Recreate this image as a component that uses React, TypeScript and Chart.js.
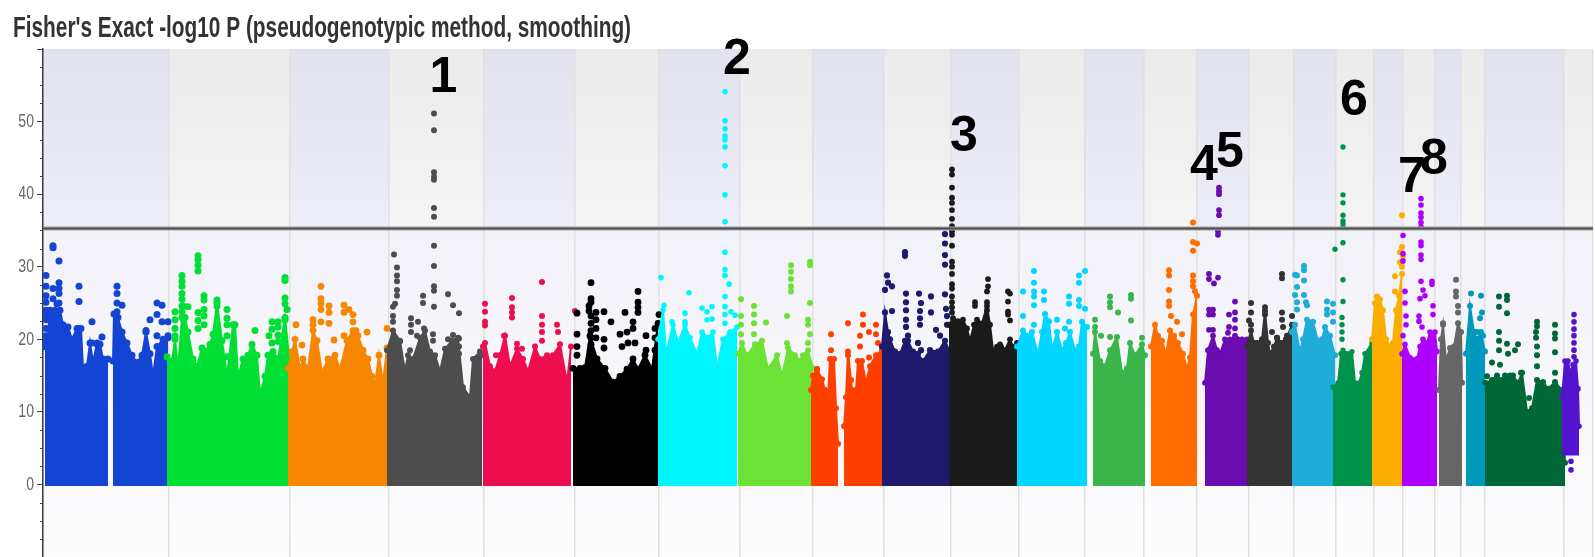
import React, { useEffect, useRef } from "react";
import { Chart, registerables } from "chart.js";

Chart.register(...registerables);

type P = [number, number];

const titleText = "Fisher's Exact -log10 P (pseudogenotypic method, smoothing)";
const thresholdValue = 35.25;
const axisStart = 43;
const axisEnd = 1593;
const bandEdges = [43, 169, 290, 389, 484, 575, 659, 740, 813, 884, 951, 1019, 1085, 1144, 1197, 1249, 1294, 1336, 1374, 1403, 1435, 1461, 1485, 1564, 1593];
const yLabels = [0, 10, 20, 30, 40, 50];
const peakLabels = ["1", "2", "3", "4", "5", "6", "7", "8"];
const peakLabelX = [443.5, 737, 964, 1204, 1230, 1354, 1412, 1434];
const peakLabelY = [56, 58.4, 47.8, 43.9, 45.7, 52.8, 42.2, 44.7];

const chr01aTop: P[] = [[45,19],[47,19],[50,24],[55,24],[60,24],[63,22],[68,21.7],[72,20],[77,21.5],[81,21.5],[83,16],[87,16.3],[90,19.5],[93,16.8],[97,19.5],[100,19.3],[103,17.3],[108,17.3]];
const chr01bTop: P[] = [[113,17],[114,23.5],[118,23],[122,21],[127,19.5],[132,17.8],[137,16.8],[142,17.8],[146,21],[150,18],[153,15],[157,19],[163,20],[168,20.5]];
const chr01Peaks: P[] = [[53,32.9],[53,32.6],[59,30.8],[46,28.8],[46,27.3],[46,26],[46,24],[46,23.4],[46,20.5],[46,19.8],[53,27],[59,27.8],[59,27],[59,26.3],[79,27.3],[79,25.2],[79,21.5],[46,25.1],[92,22.4],[46,22.7],[46,21.5],[102,20.3],[59,25],[53,25.6],[57,24.9],[117,27.3],[117,26.3],[117,25],[117,23.8],[122,24.7],[157,25],[162,24.7],[157,23.4],[150,22.7],[162,22.4],[168,22.4],[157,20.5],[146,21.2],[168,20.2],[92,19.5],[97,19.3]];

const chr02Top: P[] = [[167,17.6],[172,17],[175,20],[178,16],[182,23],[185,23],[188,21],[193,17.3],[197,16.3],[202,18.8],[205,18.3],[210,19.3],[213,20.7],[217,25],[222,19.8],[227,15],[233,22],[235,22],[238,14.9],[243,17.3],[248,17.8],[252,19.3],[257,17.8],[260,12.4],[265,14.9],[268,17.8],[273,18.3],[278,17.3],[285,23],[290,16.3]];
const chr02Peaks: P[] = [[198,31.5],[198,31],[198,30.2],[198,29.4],[182,28.8],[182,28],[182,27.3],[182,26.3],[182,25.5],[182,24.6],[182,23.8],[204,26],[204,25.4],[217,25.4],[217,24.6],[227,24.1],[227,22.9],[227,22],[227,20.5],[227,17.6],[188,24.5],[183,24.6],[175,23.8],[175,22.7],[175,21.5],[175,20.5],[198,23.7],[198,22.6],[198,21.5],[204,24.1],[204,23.2],[204,22],[255,21.2],[278,22.4],[278,21.7],[272,22.4],[272,21.4],[269,20.5],[285,28.5],[285,28.1],[285,25.7],[285,24.9],[287,24.1],[285,22.7],[272,19.5],[278,19.7],[278,20.6]];

const chr03Top: P[] = [[288,16],[292,18.3],[295,20],[300,15.9],[303,17.3],[308,15.9],[313,21.2],[317,19.8],[322,15.4],[328,17.3],[335,17.8],[340,15.9],[347,19.8],[353,21.2],[358,20.5],[363,18.5],[368,17.3],[372,14.9],[375,13.7],[379,17.8],[383,14],[387,18.8]];
const chr03Peaks: P[] = [[321,27.3],[321,25.6],[321,24.9],[321,24.1],[329,24.6],[329,23.7],[329,22.2],[321,22.4],[313,22.7],[313,22],[344,24.7],[344,23.7],[349,24.1],[353,23.4],[353,22.4],[296,22],[367,21],[334,19.9],[302,19.2],[356,21.2],[344,20.5],[387,21.5]];

const chr04Top: P[] = [[387,18.5],[393,21.2],[400,19.8],[405,15.6],[408,17.8],[413,17.3],[420,20.2],[425,21.2],[430,18.3],[435,17.8],[440,15.6],[445,18.7],[452,19.8],[458,20.2],[463,13.4],[470,12],[473,17.3],[480,18.3],[482,17.8]];
const chr04Peaks: P[] = [[394,31.7],[397,29.9],[397,28.8],[397,28],[397,26.8],[397,26],[395,24.9],[393,24.5],[393,23.2],[393,22.4],[434,51.1],[434,48.8],[434,43],[434,42.4],[434,42],[434,38.1],[434,36.9],[434,32.9],[434,30.1],[434,27.3],[434,26.7],[434,24.5],[448,26.2],[453,24.7],[459,23.6],[423,26],[423,25],[411,22.9],[411,22],[411,21],[418,22.4],[424,21.5],[433,20.7],[433,19.8],[453,20.6],[459,20.1],[448,20],[410,18.5],[417,20.5],[400,19.7],[459,19],[459,18]];

const chr05Top: P[] = [[483,19],[485,19.5],[490,16.3],[495,15.6],[500,17.8],[505,20.5],[510,16.3],[517,18.7],[523,17.3],[528,15.6],[535,19],[540,17.3],[547,17.8],[553,17.8],[560,19.3],[567,14.1],[571,19]];
const chr05Peaks: P[] = [[485,24.9],[485,23.8],[485,22.4],[485,21.9],[512,25.7],[512,24.4],[512,23.7],[512,23],[542,27.9],[542,23.2],[542,22],[542,21],[542,19.8],[557,22],[558,21],[504,20.5],[496,17.8],[517,19.4],[522,18.7],[575,23.9]];

const chr06Top: P[] = [[573,16],[580,16],[585,16.1],[590,20.5],[597,17.3],[605,16],[613,14.1],[620,14.9],[627,15.9],[633,17.3],[638,15.9],[645,17.8],[652,15.9],[658,22.2]];
const chr06Peaks: P[] = [[591,27.8],[591,25.6],[591,25.1],[589,24.6],[589,23.9],[591,23.2],[591,22.2],[591,21.2],[591,20.2],[591,19.3],[577,23.6],[577,20.7],[577,19],[577,17.8],[596,23.7],[596,22.7],[596,21.5],[596,20.2],[604,23.8],[611,22.4],[625,23.7],[638,26.6],[638,25.1],[638,24.4],[638,23.7],[633,22.4],[633,21.5],[627,21],[620,20.7],[646,20.5],[659,23.4],[655,21.5],[655,20.2],[604,20],[604,18.8],[635,19.5],[628,19.5],[622,19],[646,18.5],[655,18.5]];

const chr07Top: P[] = [[658,20],[663,24],[666,18],[673,22],[678,19.5],[685,22],[690,20.2],[697,18],[702,21],[708,20.2],[713,21],[717,16],[723,20],[730,21],[737,21.7]];
const chr07Peaks: P[] = [[661,28.5],[689,26.4],[725,54.1],[725,50.1],[725,49],[725,48],[725,47.5],[725,46.5],[725,43.9],[725,39.9],[725,36.2],[725,32],[725,29.6],[725,28.8],[729,27.6],[725,25.9],[725,24.5],[731,23.8],[735,23.3],[725,23.4],[725,22.2],[702,24.3],[707,23.8],[712,24.5],[707,22.7],[712,22.8],[685,23.6],[685,22.4],[664,24.7],[672,22.4]];

const chr08Top: P[] = [[738,18],[742,19.5],[747,17.8],[755,19.3],[762,19.8],[768,15.9],[777,17.8],[782,14.9],[788,18.8],[795,17.8],[800,17],[803,17.8],[808,18.5],[813,16]];
const chr08Peaks: P[] = [[791,30.2],[791,29.3],[791,28.3],[791,27.3],[791,26.6],[741,25.5],[741,23.2],[741,22],[741,20.7],[754,24.6],[754,23.4],[754,22.2],[754,20.7],[766,22.3],[787,23.2],[787,19.5],[810,30.7],[810,30.2],[810,25],[808,22.7],[808,22],[810,20.7],[808,19.5]];

const chr09aTop: P[] = [[811,13],[813,15],[817,15.9],[822,14.5],[825,13],[828,12],[830,17.3],[834,17.3],[836,10.5],[838,5.6]];
const chr09bTop: P[] = [[844,8],[846,12],[848,18.3],[852,13],[856,13],[858,17],[862,17],[866,14],[870,16.3],[876,17.8],[882,18.5]];
const chr09Peaks: P[] = [[831,20.7],[831,18.5],[831,17.2],[817,15.8],[815,14.2],[848,22.2],[848,17.8],[863,23.4],[863,22],[869,21],[876,22],[876,20.7],[860,20.5],[860,19],[878,19.5],[869,17.5],[851,14.4]];

const chr10Top: P[] = [[882,19],[885,23.7],[888,21],[890,20],[895,18.3],[900,18],[905,19.8],[908,19.8],[913,18.3],[918,18],[923,17],[930,18.5],[938,18.3],[945,19.8],[949,18.5]];
const chr10Peaks: P[] = [[905,32],[905,31.5],[945,34.5],[945,33.2],[945,31.6],[945,30.3],[887,28.8],[888,27.8],[892,27.3],[885,26.8],[906,26.3],[906,25.1],[906,24],[906,22.7],[906,21.7],[919,26.3],[921,25],[920,23.9],[920,22.9],[920,22],[931,25.9],[931,23.7],[945,26.2],[946,24.2],[947,23.2],[947,22],[936,21.3],[940,20.5],[892,23.9],[908,20.5],[918,19.5],[921,18.5]];

const chr11Top: P[] = [[949,22],[953,22.9],[958,22.5],[963,22.7],[967,21.5],[970,19.8],[974,22],[977,22.7],[982,22.2],[987,24.6],[990,22],[993,18.5],[997,19],[1000,19.3],[1005,18.5],[1010,20],[1013,19],[1017,19.5]];
const chr11Peaks: P[] = [[952,43.4],[952,42.7],[952,40.9],[952,39.5],[952,38.8],[952,37.8],[952,36.6],[952,35.6],[952,34.9],[952,34.4],[952,32.9],[952,30.7],[952,30],[952,29],[952,27.6],[952,27],[952,25.9],[952,25.1],[952,24.4],[952,23.7],[988,28.3],[988,27.3],[987,26.6],[987,25.1],[987,24],[975,25.1],[975,24.6],[1008,26.6],[1010,26.3],[1008,25.2],[1008,23.8],[1008,23.4],[1010,22.6],[1001,19]];

const chr12Top: P[] = [[1017,19],[1023,21.2],[1028,20.5],[1032,21],[1038,18],[1042,21],[1045,23.5],[1049,22.5],[1052,18.5],[1057,21],[1062,18.5],[1066,19.5],[1070,21],[1075,18.5],[1079,19],[1082,22.4],[1087,21.7]];
const chr12Peaks: P[] = [[1034,29.4],[1034,27.8],[1034,26.6],[1034,25.9],[1034,24.7],[1023,26.6],[1023,23.2],[1044,26.6],[1044,25.4],[1085,29.4],[1079,28.8],[1079,27.8],[1069,25.9],[1069,24.9],[1079,25.4],[1079,24.6],[1085,24.2],[1057,22.7],[1069,22.4],[1065,21.5],[1034,22]];

const chr13Top: P[] = [[1093,18],[1095,21],[1100,17],[1105,16.3],[1110,18.5],[1117,20.3],[1122,15.4],[1127,16],[1130,19.5],[1135,17.8],[1142,19.3],[1145,17.8]];
const chr13Peaks: P[] = [[1110,25.9],[1110,25.1],[1110,24.4],[1118,23.7],[1131,26.1],[1131,25.6],[1131,22.6],[1095,22.7],[1095,21.7],[1101,20.5],[1110,20.3],[1142,20.2]];

const chr14Top: P[] = [[1151,19],[1155,22],[1158,20.5],[1162,19.8],[1166,18],[1170,21.2],[1174,20.5],[1178,19.5],[1183,18],[1187,16],[1190,17.5],[1193,23.4],[1197,26]];
const chr14Peaks: P[] = [[1169,29.5],[1169,28.8],[1169,26.8],[1169,25.2],[1169,24.6],[1171,23.2],[1177,22.4],[1182,20.7],[1193,36.1],[1193,33.4],[1197,33.2],[1193,32.2],[1193,28.8],[1193,28],[1193,27.3],[1195,26.6]];

const chr15Top: P[] = [[1205,14],[1208,18.5],[1213,20.5],[1217,18.5],[1220,18],[1225,20],[1230,20],[1235,20.5],[1242,20],[1247,20]];
const chr15Peaks: P[] = [[1219,40.9],[1219,40.4],[1219,40],[1219,37.8],[1219,37.1],[1218,34.9],[1218,34.4],[1209,29],[1209,28.3],[1214,27.7],[1218,28.5],[1209,24.1],[1213,24.1],[1209,23.4],[1213,23.4],[1209,21.3],[1213,21.3],[1229,23.4],[1229,21.7],[1235,25.2],[1235,23.7],[1235,22.7],[1235,21.5],[1228,20.9]];

const chr16Top: P[] = [[1247,19],[1251,21.2],[1254,19.5],[1257,19.5],[1262,20],[1265,23.9],[1268,19.5],[1270,18],[1274,19],[1277,20.2],[1282,19.5],[1286,20],[1292,22]];
const chr16Peaks: P[] = [[1282,29],[1282,28.4],[1251,25],[1251,23.7],[1249,22.6],[1251,22],[1265,24.4],[1265,23.4],[1282,23.7],[1282,22.7],[1292,23.2],[1283,21.7],[1272,21],[1277,20.2],[1287,20.5]];

const chr17Top: P[] = [[1292,21],[1295,22],[1300,18.3],[1303,20],[1307,22.7],[1313,22.4],[1318,19.8],[1322,20],[1325,21.7],[1330,20.5],[1335,17.8]];
const chr17Peaks: P[] = [[1304,30.1],[1304,29.5],[1295,28.9],[1297,28.8],[1304,28.1],[1297,27.2],[1295,26.1],[1304,26.1],[1306,25.1],[1297,25.1],[1307,24.7],[1297,24.1],[1327,25.2],[1333,24.9],[1327,24.1],[1327,23.4],[1333,23.7],[1333,22.4]];

const chr18Top: P[] = [[1333,13.4],[1338,14],[1341,18],[1343,18.5],[1348,18],[1352,18.3],[1355,14],[1359,14],[1362,15.4],[1365,18],[1372,19.5]];
const chr18Peaks: P[] = [[1343,46.5],[1343,39.9],[1343,38.8],[1343,37.1],[1343,36.3],[1343,35.9],[1343,35.4],[1343,33.3],[1335,32.4],[1343,28.2],[1343,25.2],[1342,23],[1342,22],[1342,21],[1342,20]];

const chr19Top: P[] = [[1372,20],[1375,25],[1377,25.9],[1380,25.5],[1383,24],[1386,20],[1390,19],[1393,19.5],[1396,24],[1399,26],[1402,29]];
const chr19Peaks: P[] = [[1402,37.1],[1402,32.7],[1400,32],[1403,31.5],[1400,30.6],[1395,28.7],[1395,26.6],[1402,30]];

const chr20Top: P[] = [[1402,18],[1405,19.3],[1410,17.5],[1417,17.3],[1420,19],[1423,20],[1427,19.5],[1430,21],[1435,21],[1437,18.3]];
const chr20Peaks: P[] = [[1403,34.3],[1403,31.8],[1403,30.8],[1405,26.6],[1405,25],[1406,23.2],[1406,22],[1403,20.5],[1421,39.4],[1421,38.5],[1421,37.4],[1421,36.8],[1421,36.1],[1421,35.5],[1421,33.4],[1421,32.9],[1421,31.6],[1421,31],[1421,28],[1432,28],[1432,27.6],[1423,26.8],[1425,26],[1420,25.6],[1419,23.2],[1419,22.5],[1433,24.6],[1433,23.4],[1422,21.7]];

const chr21Top: P[] = [[1439,13],[1441,20],[1443,22],[1446,17],[1450,18.8],[1454,19],[1458,22.2],[1461,21],[1462,14]];
const chr21Peaks: P[] = [[1456,28.2],[1456,26.6],[1456,25.9],[1458,24.6],[1458,23.7],[1443,22.2]];

const chr22Top: P[] = [[1466,18],[1470,24.6],[1474,21],[1477,20],[1481,21],[1485,18.3]];
const chr22Peaks: P[] = [[1471,26.3],[1481,26],[1482,23.7],[1480,22.9],[1477,21],[1483,20.5]];

const chr23Top: P[] = [[1485,14],[1492,14.4],[1497,15],[1500,14.4],[1505,15],[1510,15],[1513,15],[1518,14],[1522,15.4],[1527,10],[1532,10.5],[1537,14.4],[1543,14.1],[1548,13.2],[1555,14.1],[1562,13],[1565,3]];
const chr23Peaks: P[] = [[1499,25.9],[1499,24.5],[1507,26],[1507,25.4],[1507,23.6],[1499,21],[1499,19.8],[1499,18.5],[1507,19.4],[1518,19.3],[1515,18.5],[1508,18],[1500,16.5],[1492,16.8],[1487,14.9],[1521,15.4],[1537,22.4],[1537,21.8],[1536,21],[1536,20.2],[1537,19],[1537,17.8],[1537,16.3],[1555,22],[1555,20.8],[1555,20.1],[1555,18.2],[1555,15.4],[1529,11.9]];

const chr24Top: P[] = [[1562,12],[1565,17],[1568,17],[1570,15.4],[1573,16.5],[1576,17],[1578,13.2],[1579,8]];
const chr24Peaks: P[] = [[1574,23.4],[1574,22.4],[1574,21.4],[1574,20.5],[1574,19.5],[1574,18.5],[1574,17.6],[1571,3.2],[1571,2]];

const chrColors = ["#1444d4", "#00df34", "#f78600", "#4d4d4d", "#ee0e50", "#000000", "#00f6ff", "#6de236", "#ff3f00", "#1f1a6e", "#1b1b1b", "#00d6ff", "#39b54a", "#ff6d00", "#6a0cb0", "#333333", "#1dadd8", "#00924a", "#fbae00", "#ad00ff", "#666666", "#0099bd", "#006838", "#5313cf"];
const chrFloors = [-0.2, -0.2, -0.2, -0.2, -0.2, -0.2, -0.2, -0.2, -0.2, -0.2, -0.2, -0.2, -0.2, -0.2, -0.2, -0.2, -0.2, -0.2, -0.2, -0.2, -0.2, -0.2, -0.2, 4];
const chrDotRadius = [3.5, 3.5, 3.4, 3, 3, 3.4, 2.8, 3, 3, 3.1, 2.9, 3, 3, 3, 2.9, 3, 3, 2.7, 3, 2.8, 3, 3, 3, 2.8];
const chrTops: P[][][] = [[chr01aTop, chr01bTop], [chr02Top], [chr03Top], [chr04Top], [chr05Top], [chr06Top], [chr07Top], [chr08Top], [chr09aTop, chr09bTop], [chr10Top], [chr11Top], [chr12Top], [chr13Top], [chr14Top], [chr15Top], [chr16Top], [chr17Top], [chr18Top], [chr19Top], [chr20Top], [chr21Top], [chr22Top], [chr23Top], [chr24Top]];
const chrPeaks: P[][] = [chr01Peaks, chr02Peaks, chr03Peaks, chr04Peaks, chr05Peaks, chr06Peaks, chr07Peaks, chr08Peaks, chr09Peaks, chr10Peaks, chr11Peaks, chr12Peaks, chr13Peaks, chr14Peaks, chr15Peaks, chr16Peaks, chr17Peaks, chr18Peaks, chr19Peaks, chr20Peaks, chr21Peaks, chr22Peaks, chr23Peaks, chr24Peaks];

const toXY = (pts: P[]) => pts.map(([x, y]) => ({ x, y }));

function buildDatasets() {
  const out: any[] = [];
  chrColors.forEach((color, i) => {
    chrTops[i].forEach((seg) => {
      out.push({
        data: toXY(seg),
        showLine: true,
        tension: 0,
        borderColor: color,
        backgroundColor: color,
        borderWidth: 2,
        pointRadius: chrDotRadius[i],
        pointBorderWidth: 0,
        fill: { value: chrFloors[i] },
        order: 100 - i,
      });
    });
    out.push({
      data: toXY(chrPeaks[i]),
      showLine: false,
      backgroundColor: color,
      borderColor: color,
      pointRadius: chrDotRadius[i],
      pointBorderWidth: 0,
      order: 100 - i,
    });
  });
  const ends = [{ x: axisStart, y: thresholdValue }, { x: axisEnd, y: thresholdValue }];
  out.push({ data: ends, showLine: true, borderColor: "#4f4f4f", borderWidth: 2, pointRadius: 0, order: 0 });
  out.push({ data: ends, showLine: true, borderColor: "#a6a6a6", borderWidth: 4, pointRadius: 0, order: 1 });
  return out;
}

function narrow(ctx: any, anchorX: number, ratio: number, draw: () => void) {
  ctx.save();
  ctx.translate(anchorX, 0);
  ctx.scale(ratio, 1);
  ctx.translate(-anchorX, 0);
  draw();
  ctx.restore();
}

const backdrop = {
  id: "backdrop",
  beforeDraw(chart: any) {
    const { ctx, chartArea: a, scales } = chart;
    const block = chart.titleBlock;
    if (block && !block.__narrow) {
      const base = block.draw.bind(block);
      block.draw = (...args: any[]) => narrow(block.ctx, 13, 0.694, () => base(...args));
      block.__narrow = true;
    }
    const thr = scales.y.getPixelForValue(thresholdValue);
    ctx.save();
    const upperLav = ctx.createLinearGradient(0, a.top, 0, thr);
    upperLav.addColorStop(0, "#e2e2ef");
    upperLav.addColorStop(1, "#eeeef8");
    const upperGrey = ctx.createLinearGradient(0, a.top, 0, thr);
    upperGrey.addColorStop(0, "#ebebeb");
    upperGrey.addColorStop(1, "#f4f4f4");
    bandEdges.slice(0, -1).forEach((edge, i) => {
      const l = scales.x.getPixelForValue(edge);
      const r = scales.x.getPixelForValue(bandEdges[i + 1]);
      ctx.fillStyle = i % 2 === 0 ? upperLav : upperGrey;
      ctx.fillRect(l, a.top, r - l, thr - a.top);
    });
    const lower = ctx.createLinearGradient(0, thr, 0, a.bottom);
    lower.addColorStop(0, "#f1f1f8");
    lower.addColorStop(1, "#fdfdfe");
    ctx.fillStyle = lower;
    ctx.fillRect(a.left, thr, a.right - a.left, a.bottom - thr);
    ctx.restore();
  },
};

const overlay = {
  id: "overlay",
  afterDraw(chart: any) {
    const { ctx, chartArea: a, scales } = chart;
    ctx.save();
    ctx.strokeStyle = "#444";
    ctx.lineWidth = 1;
    for (let v = -10; v <= 60; v += 2.5) {
      if (v % 10 === 0) continue;
      const y = Math.round(scales.y.getPixelForValue(v)) + 0.5;
      ctx.beginPath();
      ctx.moveTo(a.left - 3, y);
      ctx.lineTo(a.left, y);
      ctx.stroke();
    }
    ctx.fillStyle = "#000";
    ctx.font = "bold 50px 'Liberation Sans'";
    ctx.textAlign = "center";
    ctx.textBaseline = "middle";
    peakLabels.forEach((t, i) => {
      ctx.fillText(t, scales.x.getPixelForValue(peakLabelX[i]), scales.y.getPixelForValue(peakLabelY[i]));
    });
    ctx.restore();
  },
};

export default function App() {
  const ref = useRef<HTMLCanvasElement>(null);
  useEffect(() => {
    const chart = new Chart(ref.current as HTMLCanvasElement, {
      type: "scatter",
      data: { datasets: buildDatasets() },
      plugins: [backdrop, overlay],
      options: {
        animation: false,
        responsive: false,
        devicePixelRatio: 1,
        events: [],
        layout: { padding: { left: 13, right: 2, top: 0, bottom: 0 }, autoPadding: false },
        plugins: {
          legend: { display: false },
          tooltip: { enabled: false },
          title: {
            display: true,
            text: titleText,
            align: "start",
            color: "#333333",
            font: { family: "'Liberation Sans'", weight: "bold", size: 30 },
            padding: { top: 11, bottom: 2 },
          },
        },
        scales: {
          x: {
            type: "linear",
            min: axisStart,
            max: axisEnd,
            afterBuildTicks: (s: any) => {
              s.ticks = bandEdges.map((value) => ({ value }));
            },
            afterFit: (s: any) => {
              s.height = 0;
              s.paddingLeft = 0;
              s.paddingRight = 0;
            },
            ticks: { display: false, autoSkip: false },
            border: { display: false },
            grid: { color: "#e0e0e0", lineWidth: 1.5, drawTicks: false },
          },
          y: {
            min: -10,
            max: 60,
            afterFit: (s: any) => {
              s.width = 30;
              s.paddingTop = 0;
              s.paddingBottom = 0;
              if (!s.__narrow) {
                const base = s.drawLabels.bind(s);
                s.drawLabels = (area: any) => narrow(s.ctx, s.right - 9, 0.74, () => base(area));
                s.__narrow = true;
              }
            },
            ticks: {
              stepSize: 2.5,
              autoSkip: false,
              maxRotation: 0,
              color: "#666666",
              padding: 3,
              font: { family: "'Liberation Sans'", size: 19 },
              callback: (v: any) => (yLabels.includes(Number(v)) ? String(v) : ""),
            },
            border: { display: true, color: "#3a3a3a", width: 1.5 },
            grid: {
              drawOnChartArea: false,
              tickLength: 6,
              tickColor: (c: any) => (c.tick && c.tick.value % 10 === 0 ? "#444444" : "transparent"),
            },
          },
        },
      },
    } as any);
    return () => chart.destroy();
  }, []);
  return <canvas ref={ref} width={1595} height={557} style={{ position: "absolute", left: 0, top: 0, display: "block", filter: "blur(0.5px)" }} />;
}
